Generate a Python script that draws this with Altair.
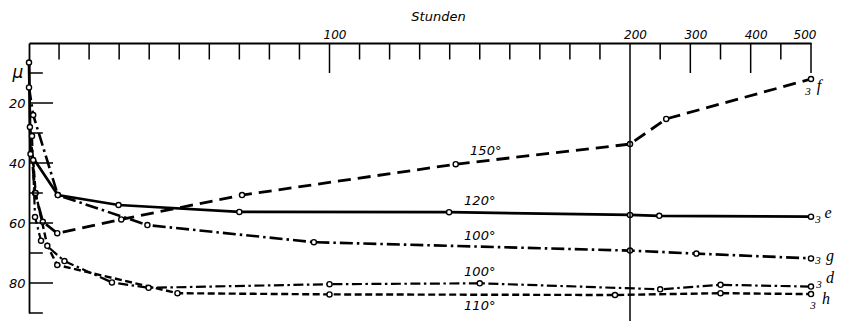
import altair as alt
import pandas as pd

# ---- data (hours, micron) ----
e_hours = [0, 0.5, 9.6, 29.8, 70, 139.8, 200, 248.5, 500]
e_mu = [6.5, 37, 50.7, 54, 56.3, 56.4, 57.3, 57.6, 57.9]
f_hours = [0.3, 2, 4.6, 9.4, 30.7, 70.9, 142, 200, 260, 500]
f_mu = [28, 50, 59.6, 63.4, 58.8, 50.7, 40.4, 33.7, 25.3, 12]
g_hours = [0, 1.4, 9.6, 39.4, 94.8, 200, 310, 500]
g_mu = [14.8, 24, 50.7, 60.7, 66.4, 69.2, 70.2, 71.8]
d_hours = [1, 2, 4, 11.8, 27.6, 39.8, 100, 150, 250, 350, 500]
d_mu = [31, 58, 65.9, 72.7, 79.8, 81.6, 80.4, 80.1, 82.1, 80.6, 81.2]
h_hours = [1.4, 2.2, 6.1, 9.4, 49.4, 100, 195, 350, 500]
h_mu = [39, 50, 67.6, 74, 83.4, 83.8, 84, 83.4, 83.7]

temp_labels = ["150°", "120°", "100°", "100°", "110°"]
temp_hours = [152, 150, 150, 150, 150]
temp_mu = [36, 52.7, 64.3, 76.3, 87.7]

end_letters = ["f", "e", "g", "d", "h"]
end_mu_three = [16.3, 59, 72.7, 80.7, 87.7]
end_mu_letter = [14.3, 56.7, 71, 78.3, 85.3]
end_dx_three = [-3, 7, 7, 8, 2]
end_dx_letter = [8, 17, 19, 19, 15]

unit_label = ["μ"]
unit_mu = [10]

x_labels = [100, 200, 300, 400, 500]
x_minor = [10, 20, 30, 40, 50, 60, 70, 80, 90, 110, 120, 130, 140, 150,
           160, 170, 180, 190, 250, 350, 450]
x_major = [100, 300, 400, 500]
y_labels = [20, 40, 60, 80]
y_minor = [10, 30, 50, 70, 90]
y_major = [20, 40, 60, 80]

series = [
    (e_hours, e_mu, None, 2.7),
    (f_hours, f_mu, [13, 7], 2.8),
    (g_hours, g_mu, [13, 4, 2.5, 4], 2.6),
    (d_hours, d_mu, [10, 3.5, 2.5, 3.5], 2.2),
    (h_hours, h_mu, [7, 3.5], 2.4),
]

xs = alt.Scale(domain=[0, 200, 500], range=[0, 601, 782])
ys = alt.Scale(domain=[0, 90], reverse=True)

x_axis = alt.Axis(
    orient="top", values=x_labels, ticks=False, grid=False, domain=True,
    domainColor="black", domainWidth=1.8, labelPadding=2, labelOffset=5,
    labelFont="DejaVu Sans", labelFontStyle="italic", labelFontSize=12,
    labelColor="black", title="Stunden", titleFont="DejaVu Sans",
    titleFontStyle="italic", titleFontWeight="normal", titleFontSize=13,
    titleColor="black", titleX=409, titleY=-27, titleBaseline="middle",
)
y_axis = alt.Axis(
    orient="left", values=y_labels, ticks=False, grid=False, domain=True,
    domainColor="black", domainWidth=1.8, labelPadding=4,
    labelFont="DejaVu Sans", labelFontStyle="italic", labelFontSize=13,
    labelColor="black", title=None,
)

def xenc(field="hour"):
    return alt.X(f"{field}:Q", scale=xs, axis=x_axis)

def yenc(field="mu"):
    return alt.Y(f"{field}:Q", scale=ys, axis=y_axis)

layers = []
for hrs, mus, dash, sw in series:
    df = pd.DataFrame({"hour": hrs, "mu": mus})
    kw = dict(color="black", strokeWidth=sw)
    if dash:
        kw["strokeDash"] = dash
    layers.append(alt.Chart(df).mark_line(**kw).encode(x=xenc(), y=yenc()))

for hrs, mus, dash, sw in series:
    df = pd.DataFrame({"hour": hrs, "mu": mus})
    pt = alt.Chart(df).mark_point(shape="circle", filled=True, fill="white",
                                  stroke="black", strokeWidth=1.4, size=26, opacity=1).encode(
        x=xenc(), y=yenc())
    layers.append(pt)

# axis ticks drawn inward
rule_kw = dict(color="black", strokeWidth=1.5)
tick_x_minor = alt.Chart(pd.DataFrame({"hour": x_minor, "a": 0, "b": 5.5})).mark_rule(**rule_kw).encode(
    x=xenc(), y=yenc("a"), y2="b:Q")
tick_x_major = alt.Chart(pd.DataFrame({"hour": x_major, "a": 0, "b": 10})).mark_rule(**rule_kw).encode(
    x=xenc(), y=yenc("a"), y2="b:Q")
line_200 = alt.Chart(pd.DataFrame({"hour": [200], "a": 0, "b": 96})).mark_rule(**rule_kw).encode(
    x=xenc(), y=yenc("a"), y2="b:Q")
tick_y_minor = alt.Chart(pd.DataFrame({"mu": y_minor, "a": 0, "b": 4.6})).mark_rule(**rule_kw).encode(
    y=yenc(), x=xenc("a"), x2="b:Q")
tick_y_major = alt.Chart(pd.DataFrame({"mu": y_major, "a": 0, "b": 8})).mark_rule(**rule_kw).encode(
    y=yenc(), x=xenc("a"), x2="b:Q")

unit_text = alt.Chart(pd.DataFrame({"hour": [0], "mu": unit_mu, "t": unit_label})).mark_text(
    font="DejaVu Sans", fontStyle="italic", fontSize=17, color="black", align="center",
    baseline="middle", dx=-11).encode(x=xenc(), y=yenc(), text="t:N")

temp_df = pd.DataFrame({"hour": temp_hours, "mu": temp_mu, "t": temp_labels})
temp_text = alt.Chart(temp_df).mark_text(font="DejaVu Sans", fontStyle="italic", fontSize=13,
                                         color="black", align="center", baseline="middle").encode(
    x=xenc(), y=yenc(), text="t:N")

end_layers = []
for i, letter in enumerate(end_letters):
    d3 = pd.DataFrame({"hour": [500], "mu": [end_mu_three[i]], "t": ["3"]})
    dl = pd.DataFrame({"hour": [500], "mu": [end_mu_letter[i]], "t": [letter]})
    end_layers.append(alt.Chart(d3).mark_text(font="Liberation Serif", fontStyle="italic", fontSize=11,
                                              color="black", dx=end_dx_three[i], baseline="middle").encode(
        x=xenc(), y=yenc(), text="t:N"))
    end_layers.append(alt.Chart(dl).mark_text(font="Liberation Serif", fontStyle="italic", fontSize=16,
                                              color="black", dx=end_dx_letter[i], baseline="middle").encode(
        x=xenc(), y=yenc(), text="t:N"))

chart = alt.layer(
    *layers, tick_x_minor, tick_x_major, line_200, tick_y_minor, tick_y_major,
    unit_text, temp_text, *end_layers
).properties(
    width=782, height=270,
    autosize=alt.AutoSizeParams(type="none"),
    padding={"left": 21, "top": 35, "right": 24, "bottom": 8},
    background="white",
).configure_view(stroke=None)

chart.save("out.html", embed_options={"renderer": "svg", "actions": False})
